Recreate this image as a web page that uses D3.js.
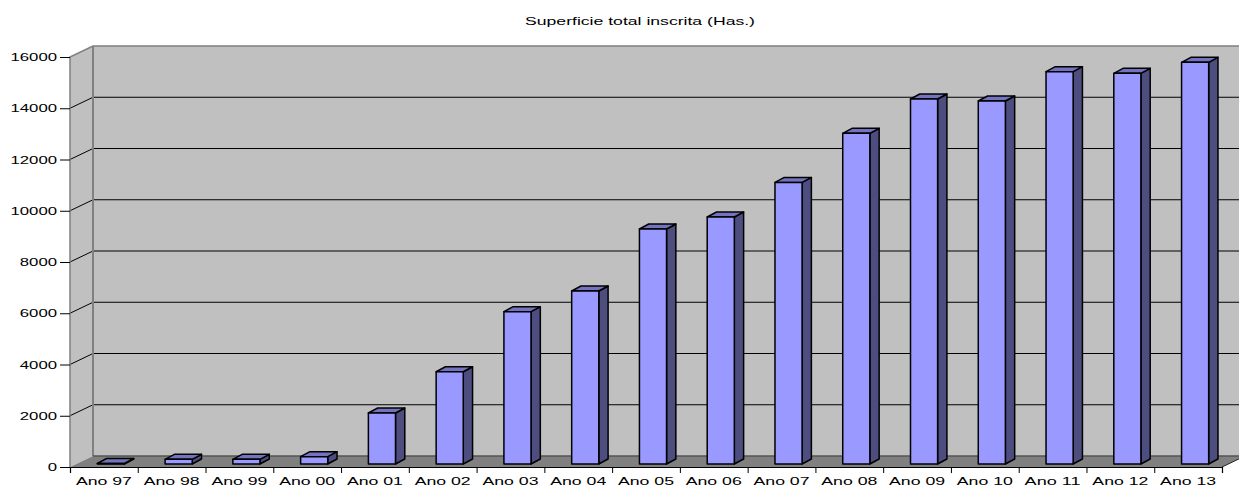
<!DOCTYPE html>
<html>
<head>
<meta charset="utf-8">
<script src="https://cdn.jsdelivr.net/npm/d3@7"></script>
<style>
html, body { margin: 0; padding: 0; background: #fff; }
text { font-family: "Liberation Sans", Arial, sans-serif; fill: #000; }
</style>
</head>
<body>
<div id="chart"></div>
<script>
var title = "Superficie total inscrita (Has.)";
var categories = ["Ano 97", "Ano 98", "Ano 99", "Ano 00", "Ano 01", "Ano 02", "Ano 03", "Ano 04", "Ano 05",
    "Ano 06", "Ano 07", "Ano 08", "Ano 09", "Ano 10", "Ano 11", "Ano 12", "Ano 13"];
var values = [20, 183, 183, 285, 1990, 3600, 5945, 6750, 9170, 9640, 10990, 12905, 14245, 14165, 15310, 15245, 15675];
var yTicks = [0, 2000, 4000, 6000, 8000, 10000, 12000, 14000, 16000];

var svgWidth = 1239;
var svgHeight = 488;

// plot corners of the front plane, the back wall is shifted by depth
var left = 70, right = 1222, top_ = 57, bottom = 467;
var depthX = 23, depthY = -11;
// bars sit partway into the floor
var barOffX = 7, barOffY = -3, barDepthX = 9.3, barDepthY = -5;

var svg = d3.select("#chart").append("svg")
    .attr("width", svgWidth)
    .attr("height", svgHeight)
    .style("display", "block");

var xScale = d3.scaleBand().domain(categories).range([left, right]).paddingInner(0.6).paddingOuter(0.3);
var xLabels = d3.scaleBand().domain(categories).range([left, right]);
var xEdges = d3.scaleLinear().domain([0, categories.length]).range([left, right]);
var yScale = d3.scaleLinear().domain([0, 16000]).range([bottom, top_]);

// side wall
svg.append("path")
    .attr("d", d3.line()([[left, top_], [left + depthX, top_ + depthY], [left + depthX, bottom + depthY], [left, bottom]]) + "Z")
    .attr("fill", "#c0c0c0");
// back wall
svg.append("rect")
    .attr("x", left + depthX)
    .attr("y", top_ + depthY)
    .attr("width", right - left)
    .attr("height", bottom - top_)
    .attr("fill", "#c0c0c0");
// floor
svg.append("path")
    .attr("d", d3.line()([[left, bottom], [left + depthX, bottom + depthY], [right + depthX, bottom + depthY], [right, bottom]]) + "Z")
    .attr("fill", "#808080");

// gridlines, along the side wall then the back wall
svg.selectAll(".grid")
    .data(yTicks.filter(d => d > 0 && d < 16000))
    .enter()
    .append("path")
    .attr("class", "grid")
    .attr("d", d => d3.line()([[left, yScale(d)], [left + depthX, yScale(d) + depthY], [right + depthX, yScale(d) + depthY]]))
    .attr("fill", "none")
    .attr("stroke", "#000")
    .attr("stroke-width", 1);

// wall edges
svg.append("path")
    .attr("d", d3.line()([[left, bottom], [left, top_], [left + depthX, top_ + depthY], [right + depthX, top_ + depthY]]))
    .attr("fill", "none")
    .attr("stroke", "#808080")
    .attr("stroke-width", 1.5);
svg.append("line")
    .attr("x1", left + depthX).attr("x2", left + depthX)
    .attr("y1", top_ + depthY).attr("y2", bottom + depthY)
    .attr("stroke", "#808080")
    .attr("stroke-width", 2);
svg.append("line")
    .attr("x1", left + depthX).attr("x2", right + depthX)
    .attr("y1", bottom + depthY).attr("y2", bottom + depthY)
    .attr("stroke", "#555")
    .attr("stroke-width", 1.5);
// floor edge going off to the right
svg.append("line")
    .attr("x1", right).attr("x2", right + depthX)
    .attr("y1", bottom).attr("y2", bottom + depthY)
    .attr("stroke", "#222")
    .attr("stroke-width", 1);

// bars
var bars = svg.selectAll(".bar")
    .data(categories)
    .enter()
    .append("g")
    .attr("class", "bar")
    .attr("stroke", "#000")
    .attr("stroke-width", 1.5)
    .attr("stroke-linejoin", "round");

bars.append("path")   // right side
    .attr("fill", "#4d4d80")
    .attr("d", function (d, i) {
        var x = xScale(d) + barOffX + xScale.bandwidth(), b = bottom + barOffY, t = yScale(values[i]) + barOffY;
        return d3.line()([[x, b], [x + barDepthX, b + barDepthY], [x + barDepthX, t + barDepthY], [x, t]]) + "Z";
    });
bars.append("path")   // top
    .attr("fill", "#7373bf")
    .attr("d", function (d, i) {
        var x = xScale(d) + barOffX, w = xScale.bandwidth(), t = yScale(values[i]) + barOffY;
        return d3.line()([[x, t], [x + barDepthX, t + barDepthY], [x + w + barDepthX, t + barDepthY], [x + w, t]]) + "Z";
    });
bars.append("rect")   // front
    .attr("fill", "#9999ff")
    .attr("x", d => xScale(d) + barOffX)
    .attr("y", (d, i) => yScale(values[i]) + barOffY)
    .attr("width", xScale.bandwidth())
    .attr("height", (d, i) => bottom - yScale(values[i]));

// axes
var leftAxis = d3.axisLeft(yScale).tickValues(yTicks).tickSize(10).tickPadding(3).tickFormat(d3.format("d"));
var yAxis = svg.append("g").attr("transform", `translate(${left}, 0)`).call(leftAxis);
yAxis.select(".domain").remove();
yAxis.selectAll("line").attr("stroke", "#000");

var edgeAxis = d3.axisBottom(xEdges).ticks(categories.length).tickSize(6).tickFormat("");
var xAxis = svg.append("g").attr("transform", `translate(0, ${bottom})`).call(edgeAxis);
xAxis.select(".domain").attr("stroke", "#000").attr("stroke-width", 1.2);

var labelAxis = d3.axisBottom(xLabels).tickSize(0).tickPadding(10);
var xText = svg.append("g").attr("transform", `translate(0, ${bottom})`).call(labelAxis);
xText.select(".domain").remove();

// stretched glyphs like the original
svg.selectAll(".tick text")
    .style("font-size", "11.5px")
    .attr("lengthAdjust", "spacingAndGlyphs");
xText.selectAll("text").attr("textLength", 56);
yAxis.selectAll("text").each(function (d) {
    d3.select(this).attr("textLength", String(d).length * 9.3);
});

svg.append("text")
    .attr("x", 640)
    .attr("y", 25)
    .attr("text-anchor", "middle")
    .attr("textLength", 230)
    .attr("lengthAdjust", "spacingAndGlyphs")
    .style("font-size", "10.5px")
    .text(title);
</script>
</body>
</html>
